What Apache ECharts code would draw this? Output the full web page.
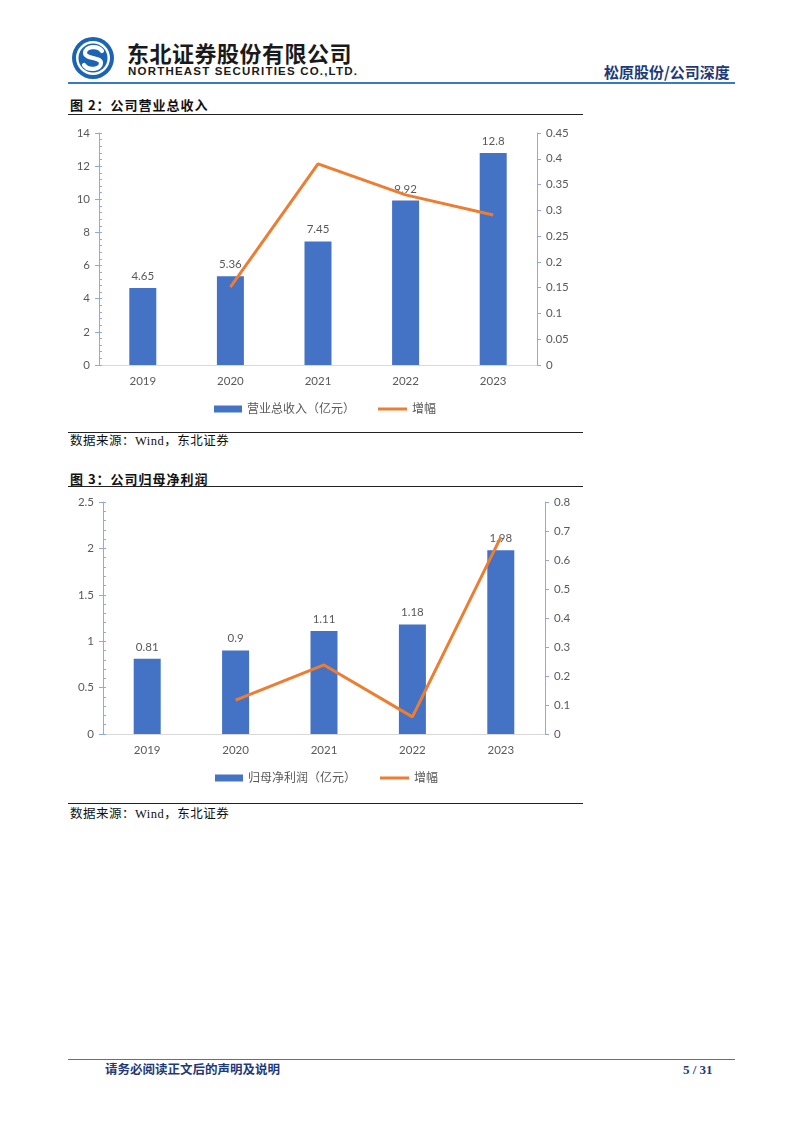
<!DOCTYPE html>
<html>
<head>
<meta charset="utf-8">
<script src="https://cdn.jsdelivr.net/npm/echarts@6/dist/echarts.min.js"></script>
<style>
  html, body { margin:0; padding:0; background:#fff; }
  body { width:802px; height:1133px; position:relative; overflow:hidden; font-family:"Noto Sans CJK SC", sans-serif; }
  .abs { position:absolute; white-space:nowrap; line-height:1; }
  .hr { position:absolute; height:0; }
  .title { font-size:13px; font-weight:bold; color:#111; font-family:"Noto Sans CJK SC", serif; letter-spacing:1px; }
  .src { font-size:12.5px; color:#111; font-family:"Liberation Serif","Noto Sans CJK SC", serif; letter-spacing:0.5px; }
</style>
</head>
<body>
<!-- header -->
<svg class="abs" style="left:71px;top:36px" width="44" height="44" viewBox="0 0 44 44">
  <circle cx="22" cy="22" r="21" fill="#1b63b3"/>
  <circle cx="22" cy="22" r="17" fill="#fff"/>
  <circle cx="22" cy="22" r="14.5" fill="#1b63b3"/>
  <path d="M31,15 C27,9 14,10 14,17 C14,23 30,21 30,27 C30,34 17,35 13,29" fill="none" stroke="#fff" stroke-width="4.2" stroke-linecap="round"/>
</svg>
<div class="abs" style="left:127px;top:41px;font-size:22px;font-weight:bold;color:#1a1a1a;letter-spacing:0.5px;">东北证券股份有限公司</div>
<div class="abs" style="left:128px;top:66px;font-size:11.5px;font-weight:bold;color:#1a1a1a;font-family:'Liberation Sans',sans-serif;letter-spacing:1.2px;">NORTHEAST SECURITIES CO.,LTD.</div>
<div class="abs" style="left:604px;top:64px;font-size:15px;color:#1f3a78;font-weight:bold;">松原股份/公司深度</div>
<div class="hr" style="left:68px;top:82px;width:667px;border-top:2px solid #3a78c2;"></div>

<!-- figure 2 -->
<div class="abs title" style="left:70px;top:98px;">图 2：公司营业总收入</div>
<div class="hr" style="left:68px;top:114px;width:515px;border-top:1px solid #222;"></div>
<div id="c1" class="abs" style="left:0;top:120px;width:802px;height:310px;"></div>
<div class="hr" style="left:68px;top:432px;width:515px;border-top:1px solid #222;"></div>
<div class="abs src" style="left:70px;top:435px;">数据来源：Wind，东北证券</div>

<!-- figure 3 -->
<div class="abs title" style="left:70px;top:472px;">图 3：公司归母净利润</div>
<div class="hr" style="left:68px;top:486px;width:515px;border-top:1px solid #222;"></div>
<div id="c2" class="abs" style="left:0;top:490px;width:802px;height:310px;"></div>
<div class="hr" style="left:68px;top:803px;width:515px;border-top:1px solid #222;"></div>
<div class="abs src" style="left:70px;top:808px;">数据来源：Wind，东北证券</div>

<!-- footer -->
<div class="hr" style="left:68px;top:1059px;width:667px;border-top:1.5px solid #3a78c2;"></div>
<div class="abs" style="left:105px;top:1063px;font-size:12.5px;font-weight:bold;color:#1f3a78;">请务必阅读正文后的声明及说明</div>
<div class="abs" style="left:683px;top:1063px;font-size:13px;font-weight:bold;color:#1f3a78;font-family:'Liberation Serif',serif;">5 / 31</div>

<script>
// ---- data ----
const years = ['2019', '2020', '2021', '2022', '2023'];
const revenue = [4.65, 5.36, 7.45, 9.92, 12.8];
const revenueGrowth = [null, 0.151, 0.39, 0.33, 0.291];
const profit = [0.81, 0.9, 1.11, 1.18, 1.98];
const profitGrowth = [null, 0.117, 0.238, 0.059, 0.679];
const revenueName = '营业总收入（亿元）';
const profitName = '归母净利润（亿元）';
const growthName = '增幅';

const BAR = '#4472C4', LINE = '#ED7D31', TXT = '#595959', AX = '#8FAADC';
const FONT = 'Lato, "Noto Sans CJK SC", sans-serif';

function build(cfg) {
  return {
    animation: false,
    textStyle: { fontFamily: FONT },
    grid: { left: cfg.left, width: cfg.width, top: cfg.top, height: 232, containLabel: false },
    legend: [
      { data: [cfg.barName], left: cfg.leg1, top: cfg.legTop, padding: 0, itemWidth: 28, itemHeight: 7, icon: 'rect',
        textStyle: { color: TXT, fontSize: 12, fontFamily: FONT } },
      { data: [growthName], left: cfg.leg2, top: cfg.legTop, padding: 0, itemWidth: 29, itemHeight: 3, icon: 'rect',
        textStyle: { color: TXT, fontSize: 12, fontFamily: FONT } }
    ],
    xAxis: {
      type: 'category', data: years,
      axisLine: { lineStyle: { color: '#D9D9D9' } },
      axisTick: { show: false },
      axisLabel: { color: TXT, fontSize: 11.5, margin: 11 }
    },
    yAxis: [
      { type: 'value', position: 'left', min: 0, max: cfg.lmax, interval: cfg.lint,
        axisLine: { show: true, lineStyle: { color: AX } },
        axisTick: { show: true, length: 4, lineStyle: { color: AX } },
        axisLabel: { color: TXT, fontSize: 11.5, margin: 9 },
        splitLine: { show: false } },
      { type: 'value', position: 'right', min: 0, max: cfg.rmax, interval: cfg.rint,
        axisLine: { show: true, lineStyle: { color: AX } },
        axisTick: { show: true, length: 4, lineStyle: { color: AX } },
        axisLabel: { color: TXT, fontSize: 11.5, margin: 9 },
        splitLine: { show: false } },
      { type: 'value', position: 'left', min: 0, max: cfg.lmax, interval: cfg.lint / 5,
        axisLine: { show: false },
        axisTick: { show: true, inside: true, length: 3, lineStyle: { color: AX } },
        axisLabel: { show: false },
        splitLine: { show: false } }
    ],
    series: [
      { name: cfg.barName, type: 'bar', data: cfg.bars, barWidth: 27, yAxisIndex: 0,
        itemStyle: { color: BAR },
        label: { show: true, position: 'top', distance: 6, color: TXT, fontSize: 11.5, fontFamily: FONT } },
      { name: growthName, type: 'line', data: cfg.line, yAxisIndex: 1, showSymbol: false, symbol: 'none',
        lineStyle: { color: LINE, width: 3 }, itemStyle: { color: LINE }, z: 5 }
    ]
  };
}

const c1 = echarts.init(document.getElementById('c1'), null, { renderer: 'canvas' });
c1.setOption(build({ left: 99, width: 438, top: 13, lmax: 14, lint: 2, rmax: 0.45, rint: 0.05,
  barName: revenueName, bars: revenue, line: revenueGrowth, leg1: 214, leg2: 378, legTop: 283 }));

const c2 = echarts.init(document.getElementById('c2'), null, { renderer: 'canvas' });
c2.setOption(build({ left: 103, width: 442, top: 12, lmax: 2.5, lint: 0.5, rmax: 0.8, rint: 0.1,
  barName: profitName, bars: profit, line: profitGrowth, leg1: 215, leg2: 380, legTop: 282 }));
</script>
</body>
</html>
